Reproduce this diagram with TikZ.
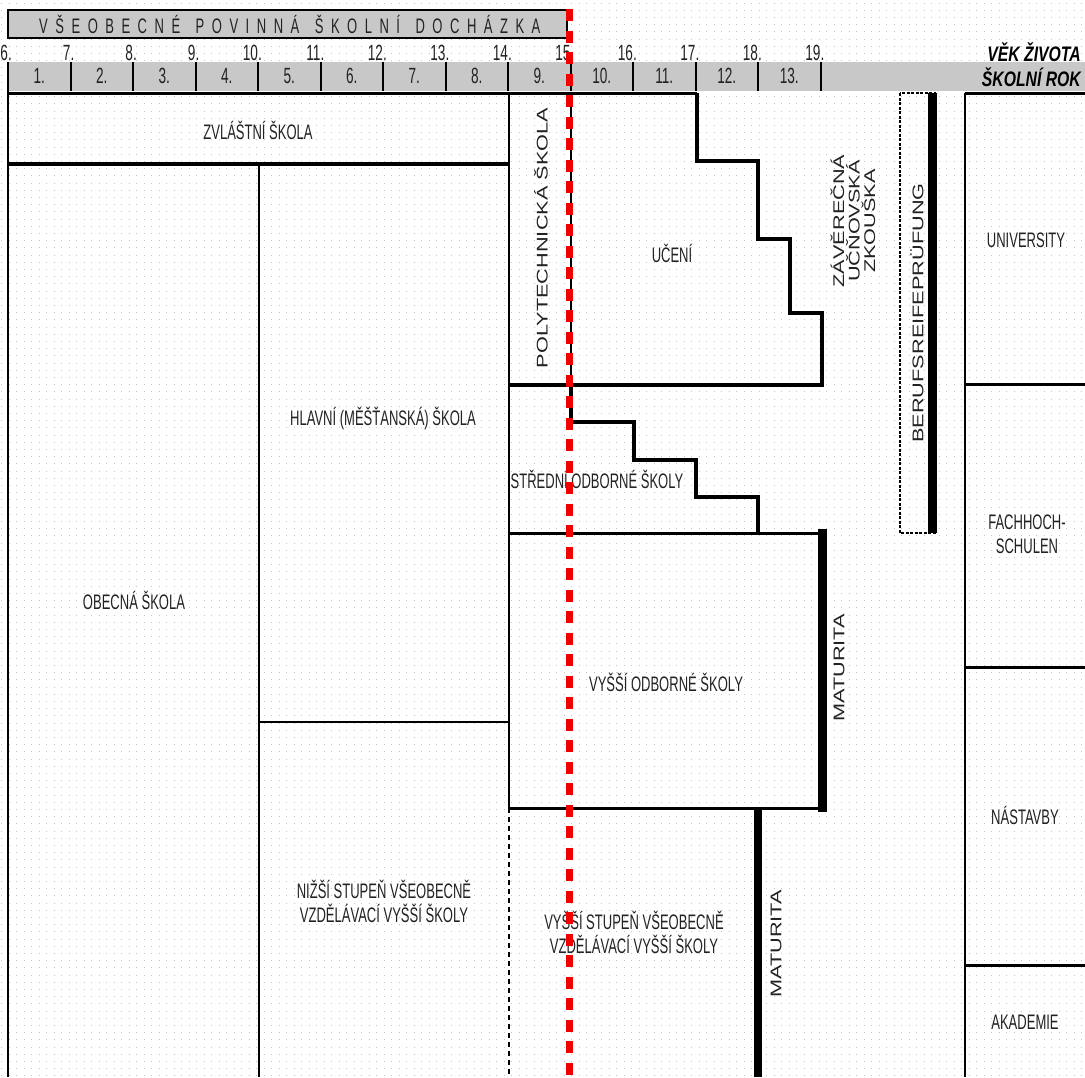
\documentclass[tikz,border=0pt]{standalone}
\usepackage{fontspec}
\setmainfont{Liberation Sans}
\newfontfamily\labf{Liberation Sans}[FakeStretch=0.62]
\newfontfamily\rotf{Liberation Sans}[FakeStretch=1.4]
\newfontfamily\hdrf{Liberation Sans}[FakeStretch=0.75]
\definecolor{barg}{HTML}{C8C8C8}
\definecolor{dotg}{HTML}{C4C4C4}
\definecolor{txt}{HTML}{222222}
\definecolor{redd}{HTML}{F00000}
\def\sprA#1{\ifx\relax#1\else#1\kern7.5pt\expandafter\sprA\fi}
\newcommand\spr[1]{\sprA#1\relax}
\begin{document}
\begin{tikzpicture}[x=1pt,y=-1pt,
  lab/.style={font={\labf\fontsize{21}{24}\selectfont}, text=txt, inner sep=0pt, align=center},
  rot/.style={font={\rotf\fontsize{15.5}{15.5}\selectfont}, text=txt, inner sep=0pt, align=center, rotate=90},
  num/.style={font={\labf\fontsize{22}{24}\selectfont}, text=txt, inner sep=0pt},
  hdr/.style={font={\hdrf\bfseries\itshape\fontsize{21}{24}\selectfont}, text=black, inner sep=0pt, anchor=east},
  wall/.style={line width=2.6pt},
  stair/.style={line width=4pt, line join=miter},
  heavybar/.style={line width=9pt},
  dotrow/.style={dotg, line width=1pt, dash pattern=on 1pt off 6.5pt},
  reddash/.style={redd, line width=7pt, dash pattern=on 12pt off 9.5pt}
]
\useasboundingbox (0,0) rectangle (1085,1077);
\clip (0,0) rectangle (1085,1077);
\fill[white] (0,0) rectangle (1085,1077);
% dotted background
\foreach \j in {0,...,149} {\draw[dotrow] (1,{3+7.2*\j}) -- (1085,{3+7.2*\j});}

% header box
\draw[line width=2.5pt, fill=barg] (8,10) rectangle (567,38);
\node[anchor=west, font={\labf\fontsize{21}{24}\selectfont}, text=txt, inner sep=0pt] (compulsory) at (39,24)
  {\spr{VŠEOBECNÉ}\kern8pt\spr{POVINNÁ}\kern8pt\spr{ŠKOLNÍ}\kern8pt\spr{DOCHÁZKA}};

% age numbers
\foreach \n [count=\k from 0] in {6,...,19} {\node[num, anchor=east] (age\n) at ({8+62.5*\k+4},53) {\n.};}
\node[hdr] (vek) at (1081,52) {VĚK ŽIVOTA};

% school year bar
\fill[barg] (8,62) rectangle (1085,91);
\foreach \k in {1,...,13} {\draw[line width=2pt] ({8+62.5*\k},62) -- ({8+62.5*\k},91);}
\foreach \n in {1,...,13} {\node[num] (yr\n) at ({8+62.5*(\n-1)+31.25},76) {\n.};}
\node[hdr] (skrok) at (1081,77) {ŠKOLNÍ ROK};

% left part
\draw[wall] (8,62) -- (8,1077);
\draw[line width=3pt] (8,93) -- (697,93);
\draw[line width=3.5pt] (8,164) -- (509,164);
\draw[line width=2.4pt] (259,164) -- (259,1077);
\draw[wall] (259,722) -- (509,722);
\draw[wall] (509,93) -- (509,808);
\draw[line width=1.5pt, dash pattern=on 5pt off 4pt] (509,808) -- (509,1077);
\draw[line width=1.5pt] (571,93) -- (571,385);

% ucni staircase
\draw[stair] (697,93) -- (697,161) -- (758,161) -- (758,239) -- (790,239) -- (790,313) -- (822,313) -- (822,387);
\draw[line width=3.5pt] (509,385) -- (822,385);

% stredni staircase
\draw[stair] (571,385) -- (571,422) -- (634,422) -- (634,460) -- (696,460) -- (696,497) -- (758,497) -- (758,533);
\draw[line width=3pt] (509,533) -- (822,533);
\draw[heavybar] (822,529) -- (822,812);
\draw[line width=3pt] (509,808) -- (822,808);
\draw[line width=8pt] (758,808) -- (758,1077);

% Berufsreifepruefung
\draw[line width=1.5pt, dash pattern=on 3pt off 1.5pt] (900,93) rectangle (935,533);
\draw[heavybar] (932,93) -- (932,533);

% right column
\draw[wall] (965,93) -- (965,1077);
\draw[line width=3pt] (965,93) -- (1085,93);
\draw[line width=3pt] (965,384) -- (1085,384);
\draw[line width=3pt] (965,667) -- (1085,667);
\draw[line width=3pt] (965,965) -- (1085,965);

% labels
\node[lab] (zvl) at (258,130) {ZVLÁŠTNÍ ŠKOLA};
\node[lab] (obec) at (134,600) {OBECNÁ ŠKOLA};
\node[lab] (hlav) at (383,418) {HLAVNÍ (MĚŠŤANSKÁ) ŠKOLA};
\node[lab] (nizsi) at (384,901) {NIŽŠÍ STUPEŇ VŠEOBECNĚ\\VZDĚLÁVACÍ VYŠŠÍ ŠKOLY};
\node[lab] (uceni) at (672,253) {UČENÍ};
\node[lab] (stred) at (597,479) {STŘEDNÍ ODBORNÉ ŠKOLY};
\node[lab] (vyssiodb) at (666,682) {VYŠŠÍ ODBORNÉ ŠKOLY};
\node[lab] (vyssist) at (634,932) {VYŠŠÍ STUPEŇ VŠEOBECNĚ\\VZDĚLÁVACÍ VYŠŠÍ ŠKOLY};
\node[lab] (univ) at (1026,240) {UNIVERSITY};
\node[lab] (fach) at (1027,534) {FACHHOCH-\\SCHULEN};
\node[lab] (nast) at (1025,815) {NÁSTAVBY};
\node[lab] (akad) at (1025,1022) {AKADEMIE};

\node[rot] (poly) at (541,238) {POLYTECHNICKÁ ŠKOLA};
\node[rot] (zav) at (853,221) {ZÁVĚREČNÁ\\UČŇOVSKÁ\\ZKOUŠKA};
\node[rot] (beruf) at (917,313) {BERUFSREIFEPRÜFUNG};
\node[rot] (mat1) at (839,668) {MATURITA};
\node[rot] (mat2) at (776,944) {MATURITA};

% red line: end of compulsory schooling
\coordinate (redtop) at (569,9);
\coordinate (redbot) at (569,1077);
\draw[reddash] (redtop) -- (redbot);
\end{tikzpicture}
\end{document}
